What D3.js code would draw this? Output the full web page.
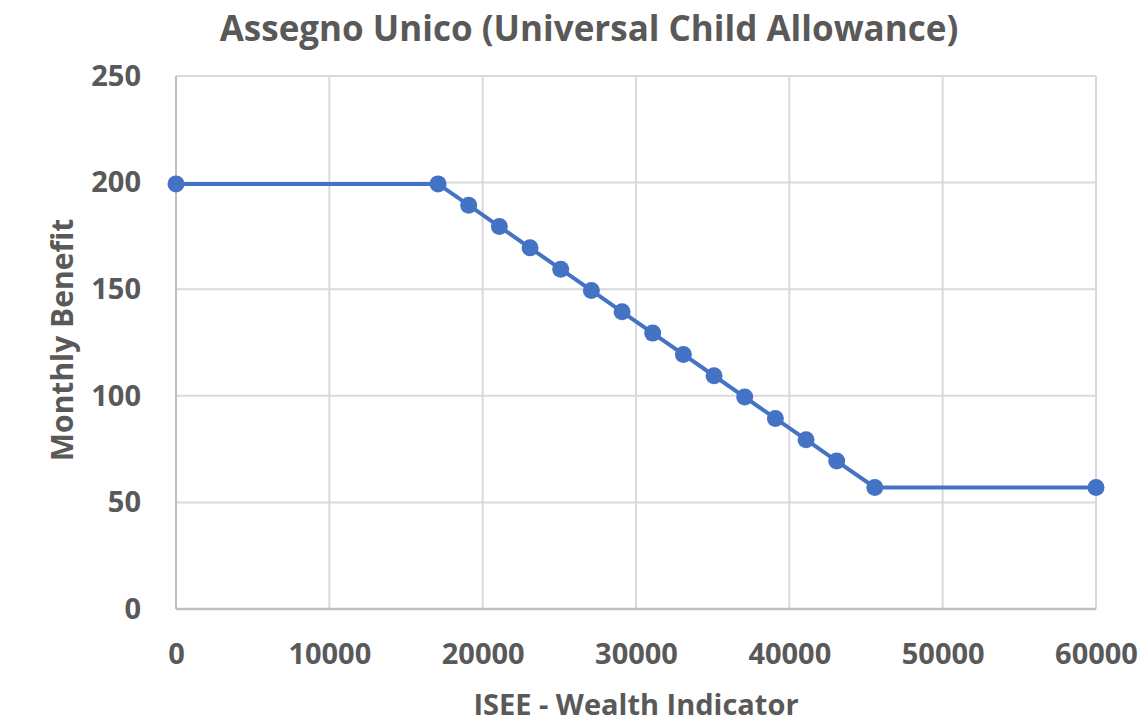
<!DOCTYPE html>
<html><head><meta charset="utf-8">
<script src="https://cdn.jsdelivr.net/npm/d3@7"></script>
<style>body{margin:0;background:#fff}svg{display:block}text{font-family:"Open Sans",Lato,sans-serif;font-weight:bold;fill:#595959}</style>
</head><body><svg id="c" width="1148" height="722"></svg>
<script>
const titleText = "Assegno Unico (Universal Child Allowance)";
const xTitle = "ISEE - Wealth Indicator";
const yTitle = "Monthly Benefit";
const iseeValues = [0, 17090, 19090, 21090, 23090, 25090, 27090, 29090, 31090, 33090, 35090, 37090, 39090, 41090, 43090, 45575, 60000];
const benefitValues = [199.4, 199.4, 189.4, 179.4, 169.4, 159.4, 149.4, 139.4, 129.4, 119.4, 109.4, 99.4, 89.4, 79.4, 69.4, 57, 57];
const xTicks = [0, 10000, 20000, 30000, 40000, 50000, 60000];
const yTicks = [0, 50, 100, 150, 200, 250];

const svg = d3.select("#c");
const x = d3.scaleLinear().domain([0, 60000]).range([176, 1096]);
const y = d3.scaleLinear().domain([0, 250]).range([609, 76]);

// grid
svg.append("g").selectAll("line.v").data(xTicks).join("line")
  .attr("x1", d => x(d)).attr("x2", d => x(d)).attr("y1", y(250)).attr("y2", y(0))
  .attr("stroke", "#d9d9d9").attr("stroke-width", 2);
svg.append("g").selectAll("line.h").data(yTicks).join("line")
  .attr("y1", d => y(d)).attr("y2", d => y(d)).attr("x1", x(0)).attr("x2", x(60000))
  .attr("stroke", "#d9d9d9").attr("stroke-width", 2);
// axes lines
svg.append("line").attr("x1", x(0)).attr("x2", x(60000)).attr("y1", y(0)).attr("y2", y(0)).attr("stroke", "#bfbfbf").attr("stroke-width", 2.5);
svg.append("line").attr("x1", x(0)).attr("x2", x(0)).attr("y1", y(250)).attr("y2", y(0)).attr("stroke", "#bfbfbf").attr("stroke-width", 2);

// axes with d3
const xAxis = svg.append("g").attr("transform", `translate(0,${y(0)})`)
  .call(d3.axisBottom(x).tickValues(xTicks).tickFormat(d3.format("d")).tickSize(0).tickPadding(34));
xAxis.select(".domain").remove();
xAxis.selectAll("text").style("font-size", "29px").style("font-family", "Open Sans").attr("fill", "#595959");
const yAxis = svg.append("g").attr("transform", `translate(${x(0)},0)`)
  .call(d3.axisLeft(y).tickValues(yTicks).tickFormat(d3.format("d")).tickSize(0).tickPadding(35));
yAxis.select(".domain").remove();
yAxis.selectAll("text").style("font-size", "29px").style("font-family", "Open Sans").attr("fill", "#595959");

// line
const pts = iseeValues.map((v, i) => [v, benefitValues[i]]);
svg.append("path").datum(pts)
  .attr("d", d3.line().x(d => x(d[0])).y(d => y(d[1])))
  .attr("fill", "none").attr("stroke", "#4472C4").attr("stroke-width", 4);
svg.append("g").selectAll("circle").data(pts).join("circle")
  .attr("cx", d => x(d[0])).attr("cy", d => y(d[1])).attr("r", 8.5).attr("fill", "#4472C4");

// titles
svg.append("text").attr("x", 589).attr("y", 41).attr("text-anchor", "middle").style("font-size", "35px").text(titleText);
svg.append("text").attr("x", 636).attr("y", 715).attr("text-anchor", "middle").style("font-size", "29px").text(xTitle);
svg.append("text").attr("transform", "translate(73,340) rotate(-90)").attr("text-anchor", "middle").style("font-size", "30px").text(yTitle);
</script></body></html>
